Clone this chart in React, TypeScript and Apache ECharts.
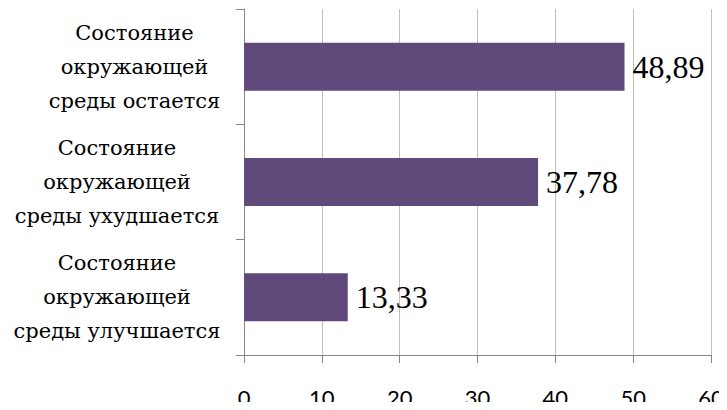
import React, { useEffect, useRef } from "react";
import * as echarts from "echarts";

const categories = [
  "Состояние\nокружающей\nсреды улучшается",
  "Состояние\nокружающей\nсреды ухудшается",
  "Состояние\nокружающей\nсреды остается",
];
const values = [13.33, 37.78, 48.89];
const labelKeys = ["c", "b", "a"];

const SERIF = "Liberation Serif";
const CAT_FONT = "'DejaVu Serif', serif";

export default function App() {
  const ref = useRef<HTMLDivElement>(null);
  useEffect(() => {
    const chart = echarts.init(ref.current!, null, { renderer: "svg" });
    const richBase = {
      fontFamily: CAT_FONT,
      fontSize: 21,
      lineHeight: 34,
      color: "#000",
      align: "center",
    };
    chart.setOption({
      animation: false,
      backgroundColor: "#fff",
      grid: {
        left: 244,
        right: 16,
        top: 9,
        bottom: 55,
        containLabel: false,
        outerBoundsMode: "none",
      },
      xAxis: {
        type: "value",
        min: 0,
        max: 60,
        interval: 10,
        axisLine: { show: true, lineStyle: { color: "#868686", width: 1 } },
        axisTick: { show: true, length: 8, lineStyle: { color: "#868686" } },
        splitLine: { show: true, lineStyle: { color: "#BFBFBF", width: 1 } },
        axisLabel: {
          margin: 32,
          fontFamily: "Lato",
          fontSize: 22,
          lineHeight: 20,
          color: "#000",
        },
      },
      yAxis: {
        type: "category",
        data: categories,
        axisLine: { show: true, lineStyle: { color: "#868686", width: 1 } },
        axisTick: { show: true, length: 8, lineStyle: { color: "#868686" } },
        axisLabel: {
          margin: 22,
          align: "right",
          fontFamily: CAT_FONT,
          fontSize: 21,
          color: "#000",
          formatter: (v: string, i: number) =>
            v
              .split("\n")
              .map((l) => `{${labelKeys[i]}|${l}}`)
              .join("\n"),
          rich: {
            a: { ...richBase, width: 175 },
            b: { ...richBase, width: 210 },
            c: { ...richBase, width: 210 },
          },
        },
      },
      series: [
        {
          type: "bar",
          data: values,
          barWidth: 48,
          itemStyle: { color: "#604A7B" },
          label: {
            show: true,
            position: "right",
            distance: 8,
            fontFamily: SERIF,
            fontSize: 32,
            color: "#000",
            formatter: (p: any) => p.value.toFixed(2).replace(".", ","),
          },
        },
      ],
    });
    return () => chart.dispose();
  }, []);
  return <div ref={ref} style={{ width: 727, height: 410, margin: -8 }} />;
}
